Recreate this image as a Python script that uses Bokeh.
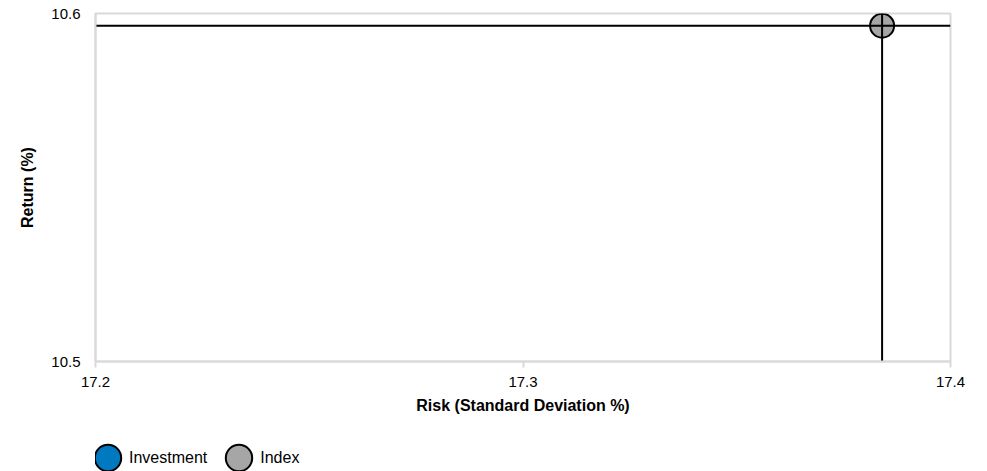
from bokeh.plotting import figure
from bokeh.layouts import column
from bokeh.models import FixedTicker, Range1d, Legend, LegendItem, ColumnDataSource
from bokeh.embed import file_html
from bokeh.resources import INLINE

# Data
series_names = ["Investment", "Index"]
investment_risk = []
investment_return = []
index_risk = [17.384]
index_return = [10.5965]
x_ticks = [17.2, 17.3, 17.4]
y_ticks = [10.5, 10.6]
series_colors = ["#0079c1", "#a6a6a6"]

FONT = "Liberation Sans"

p = figure(width=979, height=423, output_backend="svg", toolbar_location=None,
           x_range=Range1d(x_ticks[0], x_ticks[-1]), y_range=Range1d(y_ticks[0], y_ticks[-1]),
           min_border_left=95, min_border_right=29, min_border_top=13, min_border_bottom=62)
p.xgrid.visible = False
p.ygrid.visible = False
p.outline_line_color = "#d9d9d9"
p.outline_line_width = 2

p.xaxis.ticker = FixedTicker(ticks=x_ticks)
p.yaxis.ticker = FixedTicker(ticks=y_ticks)
p.xaxis.minor_tick_line_color = None
p.yaxis.minor_tick_line_color = None
p.yaxis.major_tick_line_color = None
p.yaxis.major_tick_out = 0
p.yaxis.major_tick_in = 0
p.xaxis.major_tick_line_color = "#d9d9d9"
p.xaxis.major_tick_line_width = 2
p.xaxis.major_tick_out = 6
p.xaxis.major_tick_in = 0
p.xaxis.axis_line_color = "#d9d9d9"
p.yaxis.axis_line_color = "#d9d9d9"
p.xaxis.axis_line_width = 2
p.yaxis.axis_line_width = 2
for ax in (p.xaxis, p.yaxis):
    ax.major_label_text_font = FONT
    ax.major_label_text_font_size = "15px"
    ax.major_label_text_color = "#000000"
    ax.axis_label_text_font = FONT
    ax.axis_label_text_font_size = "16px"
    ax.axis_label_text_font_style = "bold"
    ax.axis_label_text_color = "#000000"
p.xaxis.axis_label = "Risk (Standard Deviation %)"
p.yaxis.axis_label = "Return (%)"
p.xaxis.major_label_standoff = 9
p.xaxis.axis_label_standoff = 7
p.yaxis.major_label_standoff = 15
p.yaxis.axis_label_standoff = 12

inv_src = ColumnDataSource(dict(x=investment_risk, y=investment_return))
idx_src = ColumnDataSource(dict(x=index_risk, y=index_return))

p.scatter("x", "y", source=inv_src, size=24, fill_color=series_colors[0],
          line_color="#000000", line_width=2)
p.scatter("x", "y", source=idx_src, size=24, fill_color=series_colors[1],
          line_color="#000000", line_width=2)

# crosshair through the index point
p.segment(x0=[x_ticks[0]], y0=index_return, x1=[x_ticks[-1]], y1=index_return,
          line_color="#000000", line_width=2)
p.segment(x0=index_risk, y0=[y_ticks[0]], x1=index_risk, y1=[y_ticks[-1]],
          line_color="#000000", line_width=2)

# legend strip (its proxy glyphs use the index values, which lie outside this strip's range)
lg = figure(width=979, height=48, output_backend="svg", toolbar_location=None,
            x_range=Range1d(0, 1), y_range=Range1d(0, 1),
            min_border_left=0, min_border_right=0, min_border_top=0, min_border_bottom=0)
lg.axis.visible = False
lg.grid.visible = False
lg.outline_line_color = None
items = []
for name, color in zip(series_names, series_colors):
    r = lg.ellipse("x", "y", source=idx_src, width=24, height=24,
                   width_units="screen", height_units="screen", fill_color=color,
                   line_color="#000000", line_width=2)
    items.append(LegendItem(label=name, renderers=[r]))
legend = Legend(items=items, location=(-4, -3), orientation="horizontal",
                glyph_width=33, glyph_height=33, label_standoff=5, spacing=15,
                padding=0, margin=0, border_line_color=None, background_fill_alpha=0,
                label_text_font=FONT, label_text_font_size="16px",
                label_text_color="#000000")
lg.add_layout(legend, "center")

layout = column(p, lg, spacing=0)
open("out.html", "w").write(file_html(layout, INLINE))
